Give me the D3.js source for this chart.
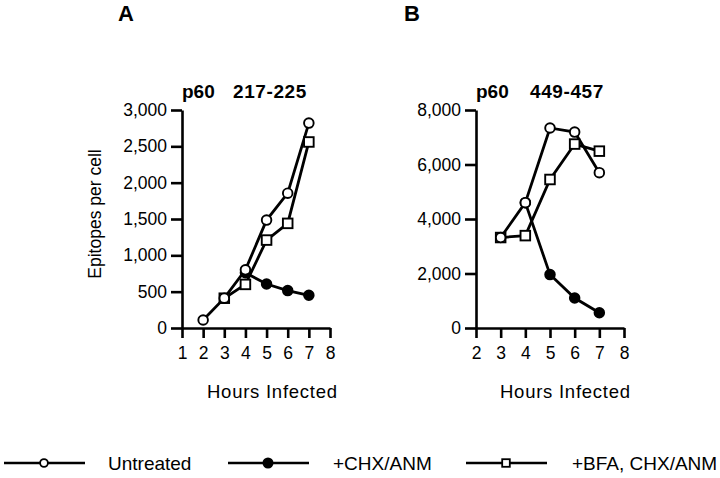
<!DOCTYPE html>
<html>
<head>
<meta charset="utf-8">
<script src="https://cdn.jsdelivr.net/npm/d3@7"></script>
<style>
  body { margin: 0; background: #fff; }
  svg { font-family: "Liberation Sans", Arial, sans-serif; }
  .axis path, .axis line { stroke: #000; stroke-width: 2.6; }
  .axis text { font-size: 17.5px; fill: #000; font-family: "Liberation Sans", Arial, sans-serif; }
</style>
</head>
<body>
<script>
// panel A: p60 217-225
const hoursA = [2, 3, 4, 5, 6, 7];
const untreatedA = [110, 410, 800, 1485, 1855, 2820];
const chxHoursA = [4, 5, 6, 7];
const chxA = [760, 605, 515, 450];
const bfaHoursA = [3, 4, 5, 6, 7];
const bfaA = [410, 600, 1210, 1440, 2560];
const yTicksA = [0, 500, 1000, 1500, 2000, 2500, 3000];
const xTicksA = [1, 2, 3, 4, 5, 6, 7, 8];

// panel B: p60 449-457
const hoursB = [3, 4, 5, 6, 7];
const untreatedB = [3320, 4600, 7340, 7190, 5700];
const chxHoursB = [4, 5, 6, 7];
const chxB = [4600, 1960, 1100, 560];
const bfaHoursB = [3, 4, 5, 6, 7];
const bfaB = [3320, 3390, 5450, 6750, 6490];
const yTicksB = [0, 2000, 4000, 6000, 8000];
const xTicksB = [2, 3, 4, 5, 6, 7, 8];

const legendLabels = ['Untreated', '+CHX/ANM', '+BFA, CHX/ANM'];

const svg = d3.select('body').append('svg')
	.attr('width', 720)
	.attr('height', 478);

const fmt = d3.format(',');

function panel(opts) {
	const x = d3.scaleLinear().domain(opts.xDomain).range([opts.left, opts.left + 148]);
	const y = d3.scaleLinear().domain(opts.yDomain).range([328, 110]);

	svg.append('g')
		.attr('class', 'axis')
		.attr('transform', `translate(${opts.left},0)`)
		.call(d3.axisLeft(y).tickValues(opts.yTicks).tickFormat(fmt).tickSize(11).tickSizeOuter(0).tickPadding(4));

	svg.append('g')
		.attr('class', 'axis')
		.attr('transform', 'translate(0,328)')
		.call(d3.axisBottom(x).tickValues(opts.xTicks).tickFormat(d3.format('d')).tickSize(10).tickSizeOuter(0).tickPadding(9));

	svg.selectAll('.domain').attr('fill', 'none');

	const line = d3.line().x(d => x(d[0])).y(d => y(d[1]));
	const series = [
		{ hours: opts.chxHours, vals: opts.chx, mark: 'filled' },
		{ hours: opts.bfaHours, vals: opts.bfa, mark: 'square' },
		{ hours: opts.hours, vals: opts.untreated, mark: 'open' }
	];

	series.forEach(s => {
		const pts = s.hours.map((h, i) => [h, s.vals[i]]);
		svg.append('path')
			.datum(pts)
			.attr('d', line)
			.attr('fill', 'none')
			.attr('stroke', '#000')
			.attr('stroke-width', 2.8);
	});

	series.forEach(s => {
		const pts = s.hours.map((h, i) => [h, s.vals[i]]);
		if (s.mark === 'square') {
			svg.selectAll(null).data(pts).enter().append('rect')
				.attr('x', d => x(d[0]) - 4.8)
				.attr('y', d => y(d[1]) - 4.8)
				.attr('width', 9.6).attr('height', 9.6)
				.attr('fill', '#fff').attr('stroke', '#000').attr('stroke-width', 1.9);
		} else {
			svg.selectAll(null).data(pts).enter().append('circle')
				.attr('cx', d => x(d[0]))
				.attr('cy', d => y(d[1]))
				.attr('r', 4.8)
				.attr('fill', s.mark === 'filled' ? '#000' : '#fff')
				.attr('stroke', '#000').attr('stroke-width', 1.9);
		}
	});

	svg.append('text')
		.attr('x', opts.letterX).attr('y', 21)
		.style('font-size', '22px').style('font-weight', 'bold')
		.text(opts.letter);

	svg.append('text')
		.attr('x', opts.left).attr('y', 98)
		.style('font-size', '19px').style('font-weight', 'bold')
		.text('p60');
	svg.append('text')
		.attr('x', opts.left + opts.epiOffset).attr('y', 98)
		.style('font-size', '19px').style('font-weight', 'bold')
		.style('letter-spacing', '0.6px')
		.text(opts.epitope);

	svg.append('text')
		.attr('x', opts.left + opts.hoursOffset).attr('y', 398)
		.style('font-size', '18.5px')
		.attr('textLength', 130)
		.text('Hours Infected');
}

panel({
	left: 182, xDomain: [1, 8], yDomain: [0, 3000], yTicks: yTicksA, xTicks: xTicksA,
	hours: hoursA, untreated: untreatedA, chxHours: chxHoursA, chx: chxA, bfaHours: bfaHoursA, bfa: bfaA,
	letter: 'A', letterX: 118, epitope: '217-225', epiOffset: 51, hoursOffset: 25
});

panel({
	left: 476, xDomain: [2, 8], yDomain: [0, 8000], yTicks: yTicksB, xTicks: xTicksB,
	hours: hoursB, untreated: untreatedB, chxHours: chxHoursB, chx: chxB, bfaHours: bfaHoursB, bfa: bfaB,
	letter: 'B', letterX: 404, epitope: '449-457', epiOffset: 54, hoursOffset: 24
});

svg.append('text')
	.attr('transform', 'translate(101,214) rotate(-90)')
	.attr('text-anchor', 'middle')
	.style('font-size', '17.5px')
	.text('Epitopes per cell');

// legend
const legendItems = [
	{ label: legendLabels[0], mark: 'open', x: 4, tx: 108 },
	{ label: legendLabels[1], mark: 'filled', x: 228, tx: 333 },
	{ label: legendLabels[2], mark: 'square', x: 466, tx: 572 }
];
const lg = svg.selectAll('.legend').data(legendItems).enter().append('g').attr('class', 'legend');
lg.append('line')
	.attr('x1', d => d.x).attr('x2', d => d.x + 81)
	.attr('y1', 463).attr('y2', 463)
	.attr('stroke', '#000').attr('stroke-width', 2.5);
lg.each(function(d) {
	const g = d3.select(this);
	const cx = d.x + 40;
	if (d.mark === 'square') {
		g.append('rect').attr('x', cx - 3.8).attr('y', 459.2).attr('width', 7.6).attr('height', 7.6)
			.attr('fill', '#fff').attr('stroke', '#000').attr('stroke-width', 1.8);
	} else {
		g.append('circle').attr('cx', cx).attr('cy', 463).attr('r', d.mark === 'filled' ? 4.6 : 3.9)
			.attr('fill', d.mark === 'filled' ? '#000' : '#fff')
			.attr('stroke', '#000').attr('stroke-width', 1.8);
	}
});
lg.append('text')
	.attr('x', d => d.tx).attr('y', 470)
	.style('font-size', '19px')
	.text(d => d.label);
</script>
</body>
</html>
